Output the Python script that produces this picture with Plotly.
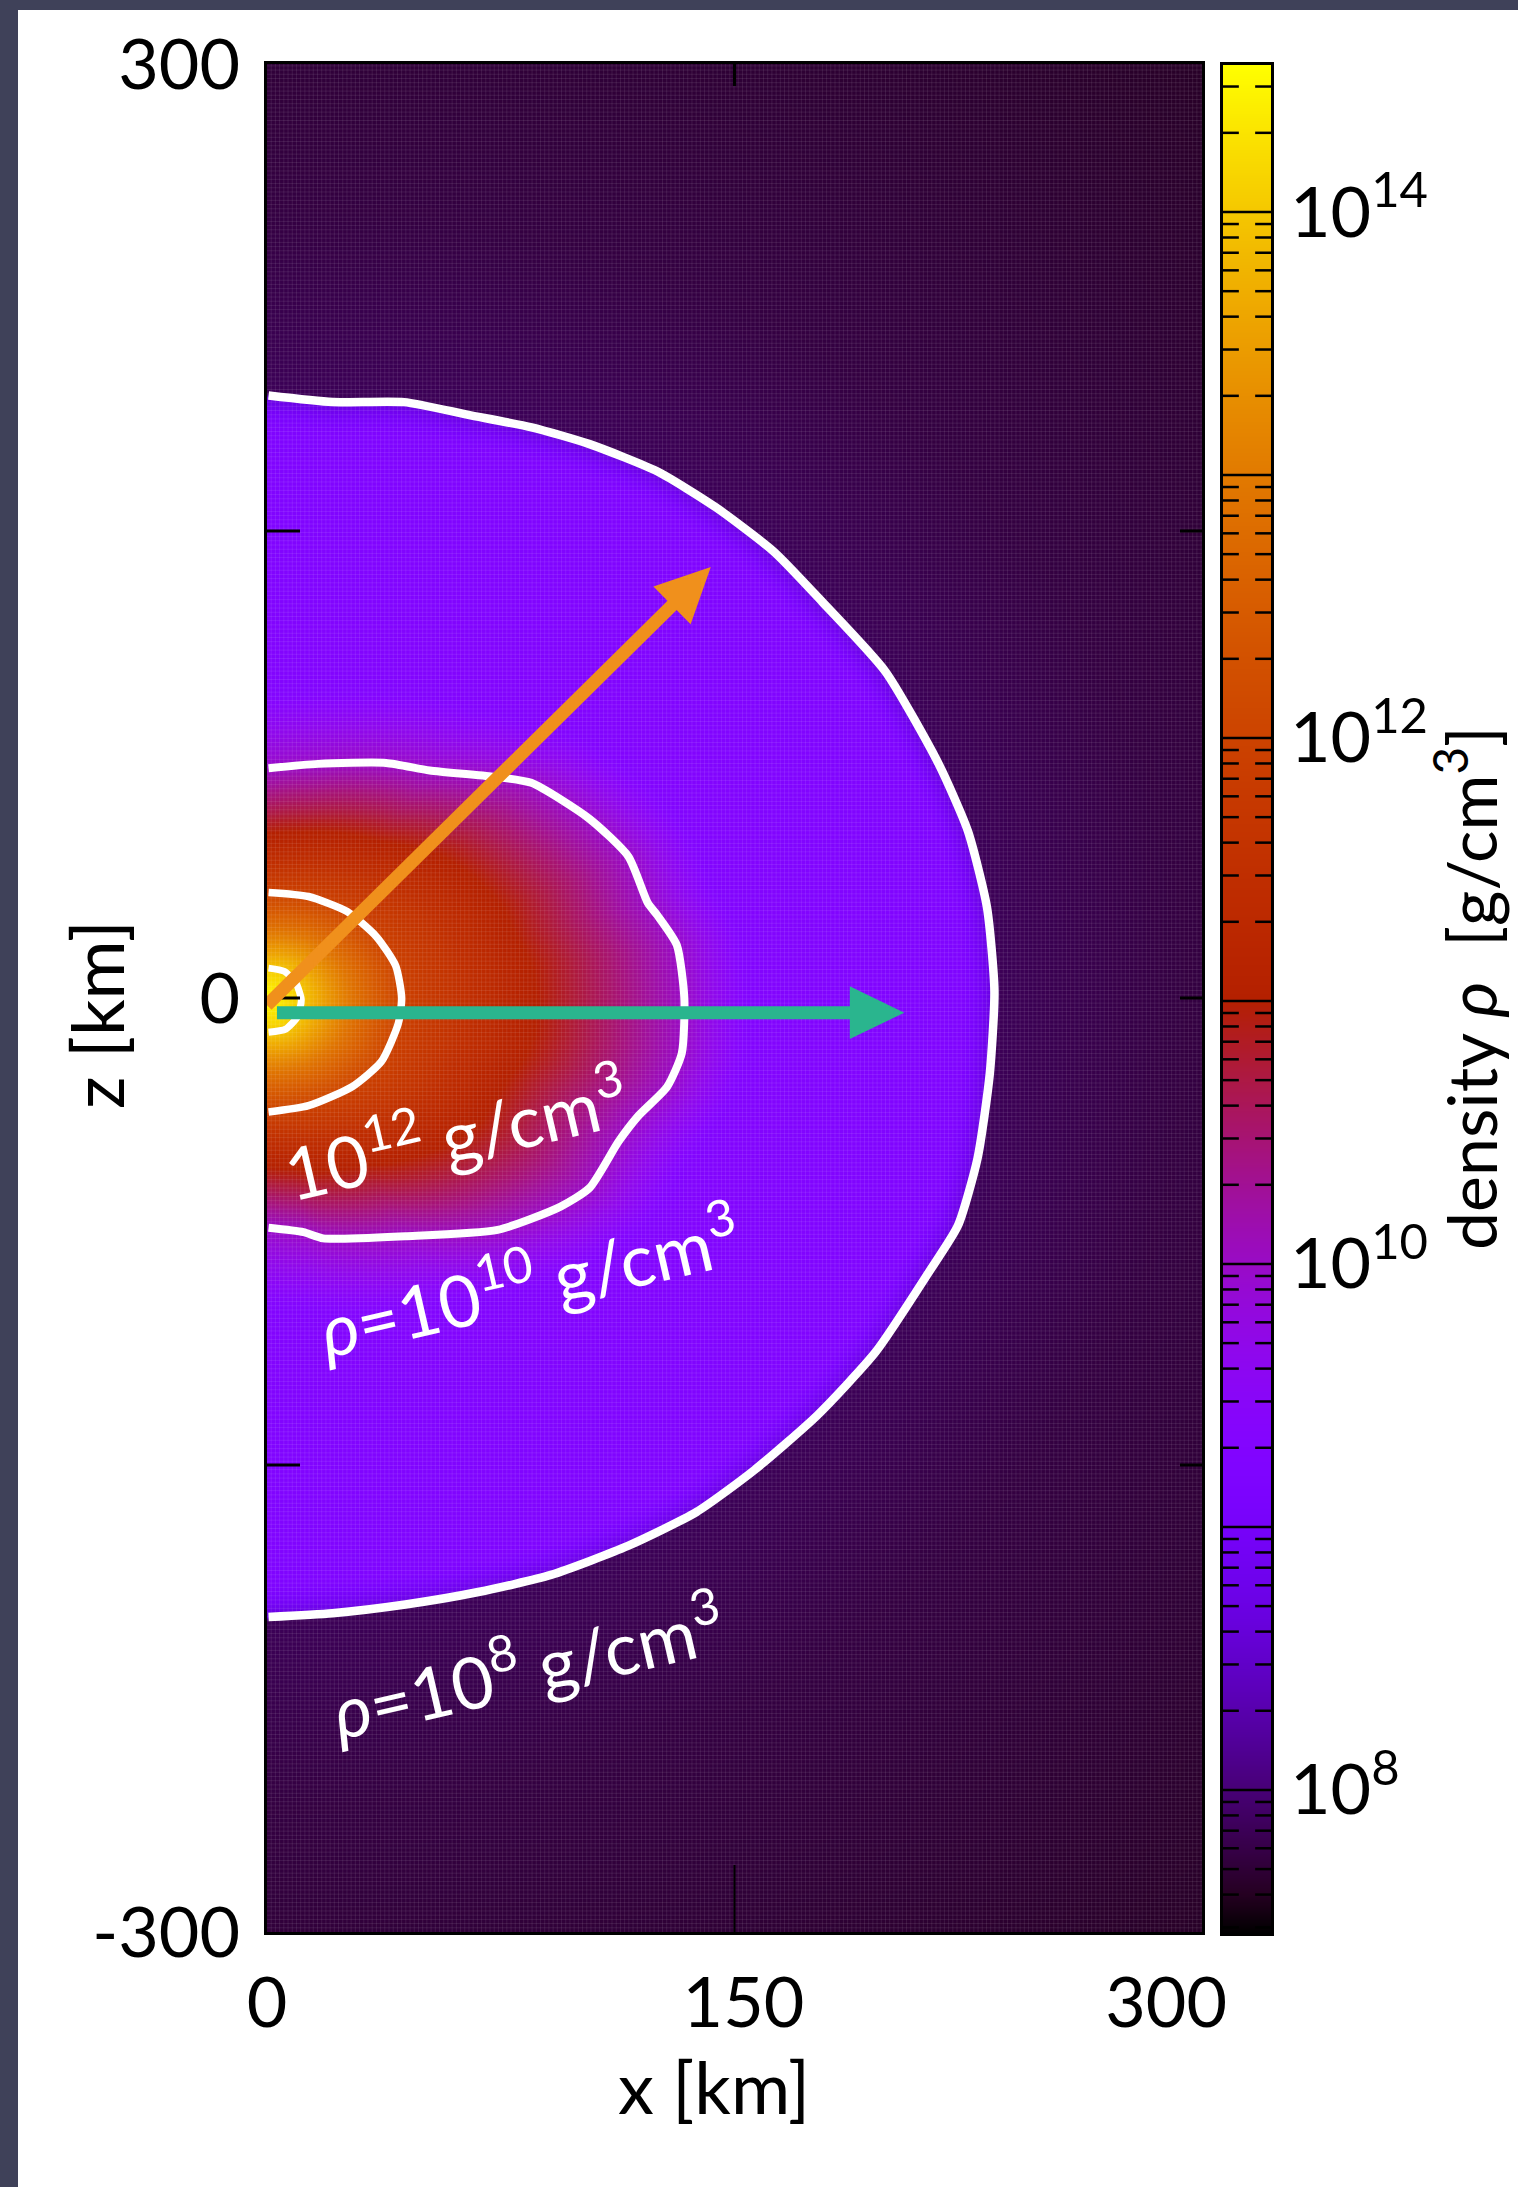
import numpy as np
import plotly.graph_objects as go

# ---------------------------------------------------------------
# Density contours of the remnant (x, z in km), one list per level
# ---------------------------------------------------------------
rho1e14_x = [0.5, 5.5, 9.2, 11.0, 9.8, 6.0, 0.5]
rho1e14_z = [9.6, 8.6, 5.0, -0.5, -6.0, -10.0, -11.0]

rho1e12_x = [0.5, 13.3, 25.7, 35.1, 41.3, 43.2, 42.1, 36.7, 27.3, 13.3, 0.5]
rho1e12_z = [33.9, 32.6, 27.8, 19.7, 10.3, 0.0, -8.3, -20.4, -28.5, -34.6, -36.6]

rho1e10_x = [0.5, 16.4, 38.2, 52.2, 72.4, 84.8, 103.5, 116.0, 122.2, 125.3, 131.5,
             133.9, 133.1, 128.4, 119.1, 112.8, 103.5, 94.2, 74.0, 44.4, 18.0, 11.7, 0.5]
rho1e10_z = [73.8, 75.2, 75.5, 73.1, 71.1, 69.1, 57.5, 45.4, 30.5, 26.5, 17.0,
             0.0, -17.7, -28.5, -37.9, -46.1, -61.0, -67.0, -74.5, -76.5, -77.2, -75.2, -73.8]

rho1e8_x = [0.5, 21.0, 44.0, 64.6, 84.9, 103.5, 125.3, 144.0, 162.6, 178.2, 198.4,
            215.5, 224.9, 231.0, 233.4, 231.9, 228.0, 221.7, 212.4, 195.3, 176.6,
            156.4, 137.8, 116.0, 91.1, 67.8, 44.4, 21.0, 0.5]
rho1e8_z = [193.5, 191.4, 191.4, 187.3, 183.3, 177.9, 169.1, 157.6, 143.4, 127.2, 104.9,
            75.2, 53.6, 29.2, 2.2, -24.4, -51.4, -73.1, -88.0, -113.7, -134.0,
            -151.6, -165.1, -175.9, -185.3, -190.8, -194.8, -197.6, -198.8]

# log10(rho) profile between neighbouring contours (t = fractional radius)
core_logrho = [14.55, 14.0]                       # centre -> 1e14 contour
inner_t, inner_logrho = [0.0, 0.5, 1.0], [14.0, 12.9, 12.0]
mid_t, mid_logrho = [0.0, 0.2, 0.45, 0.75, 1.0], [11.95, 11.55, 11.05, 10.5, 10.0]
outer_t, outer_logrho = [0.0, 0.2, 1.0], [10.0, 9.3, 9.2]
edge_width_km, edge_logrho = 11.0, 8.6             # darker rim inside the 1e8 surface
ambient_km, ambient_logrho = [0.0, 60.0, 250.0], [7.85, 7.75, 7.6]

# axes
NB = "\u00a0"
x_ticks, x_ticklabels = [0, 150, 300], ["0", NB + "150", "300" + NB * 4]
z_ticks, z_ticklabels = [-300, -150, 0, 150, 300], ["-300", " ", "0", " ", "300"]
x_inner_ticks = [150]
z_inner_ticks = [-150, 0, 150]
cbar_range = [7.456, 14.559]
cbar_decades = [8, 9, 10, 11, 12, 13, 14]
cbar_labelled = [8, 10, 12, 14]

# arrows (km)
arrow_orange_start, arrow_orange_tip = (0.0, -2.3), (142.4, 138.4)
arrow_teal_start, arrow_teal_tip = (3.2, -4.7), (204.5, -4.7)

# in-plot labels
label_text = ["10<sup>12</sup> g/cm<sup>3</sup>",
              "<i>ρ</i>=10<sup>10</sup> g/cm<sup>3</sup>",
              "<i>ρ</i>=10<sup>8</sup> g/cm<sup>3</sup>"]
label_x = [60.3, 83.8, 83.4]
label_z = [-42.4, -90.0, -213.6]

FONT = "Lato"
W, H = 1518, 2187
TICK_SIZE, TEXT_SIZE = 70, 72


def gnuplot_scale(n=48):
    out = []
    for i in range(n + 1):
        t = i / n
        r = np.sqrt(t)
        g = t ** 3
        b = np.clip(np.sin(2 * np.pi * t), 0, 1)
        out.append([t, "rgb(%d,%d,%d)" % (round(255 * r), round(255 * g), round(255 * b))])
    return out


CSCALE = gnuplot_scale()

# ---------------------------------------------------------------
# Density field on the meridional grid, built from the contours
# ---------------------------------------------------------------
dx = 1.5
xc = np.arange(dx / 2, 300, dx)
zc = np.arange(-300 + dx / 2, 300, dx)
X, Z = np.meshgrid(xc, zc)
R = np.hypot(X, Z)
TH = np.arctan2(Z, X)


def contour_radius(cx, cz):
    cx, cz = np.asarray(cx, float), np.asarray(cz, float)
    th = np.arctan2(cz, cx)
    r = np.hypot(cx, cz)
    o = np.argsort(th)
    return np.interp(TH, th[o], r[o])


r14 = contour_radius(rho1e14_x, rho1e14_z)
r12 = contour_radius(rho1e12_x, rho1e12_z)
r10 = contour_radius(rho1e10_x, rho1e10_z)
r8 = contour_radius(rho1e8_x, rho1e8_z)

logrho = np.empty_like(R)
m = R < r14
logrho[m] = np.interp(R[m] / r14[m], [0, 1], core_logrho)
m = (R >= r14) & (R < r12)
logrho[m] = np.interp((R[m] - r14[m]) / (r12[m] - r14[m]), inner_t, inner_logrho)
m = (R >= r12) & (R < r10)
logrho[m] = np.interp((R[m] - r12[m]) / (r10[m] - r12[m]), mid_t, mid_logrho)
m = (R >= r10) & (R < r8)
v = np.interp((R[m] - r10[m]) / (r8[m] - r10[m]), outer_t, outer_logrho)
w = np.clip(1 - (r8[m] - R[m]) / edge_width_km, 0, 1) ** 1.5
logrho[m] = v * (1 - w) + edge_logrho * w
m = R >= r8
logrho[m] = np.interp(R[m] - r8[m], ambient_km, ambient_logrho)

fig = go.Figure()

fig.add_trace(go.Heatmap(x=xc, y=zc, z=logrho, colorscale=CSCALE,
                         zmin=cbar_range[0], zmax=cbar_range[1], zsmooth="best",
                         showscale=False, hoverinfo="skip"))

# faint cell mesh of the simulation grid
mesh = 1.35
mx, my = [], []
for xv in np.arange(mesh, 300, mesh):
    mx += [xv, xv, None]
    my += [-300, 300, None]
for zv in np.arange(-300 + mesh, 300, mesh):
    mx += [0, 300, None]
    my += [zv, zv, None]
fig.add_trace(go.Scatter(x=mx, y=my, mode="lines", hoverinfo="skip",
                         line=dict(color="rgba(255,255,255,0.09)", width=1)))

# white density contours
for cx, cz, lw in [(rho1e14_x, rho1e14_z, 7), (rho1e12_x, rho1e12_z, 7.5),
                   (rho1e10_x, rho1e10_z, 8), (rho1e8_x, rho1e8_z, 8.5)]:
    fig.add_trace(go.Scatter(x=cx, y=cz, mode="lines", hoverinfo="skip",
                             line=dict(color="white", width=lw, shape="spline", smoothing=0.6)))

# ---------------------------------------------------------------
# Colour bar drawn as its own small subplot
# ---------------------------------------------------------------
cb_y = np.linspace(cbar_range[0], cbar_range[1], 500)
fig.add_trace(go.Heatmap(x=[0.25, 0.75], y=cb_y, z=np.column_stack([cb_y, cb_y]),
                         colorscale=CSCALE, zmin=cbar_range[0], zmax=cbar_range[1],
                         zsmooth="best", showscale=False, hoverinfo="skip",
                         xaxis="x2", yaxis="y2"))

tx, ty = [], []
for d in cbar_decades:
    tx += [0, 1, None]
    ty += [d, d, None]
for d in range(7, 15):
    for k in range(2, 10):
        yv = d + np.log10(k)
        if cbar_range[0] < yv < cbar_range[1]:
            tx += [0, 0.33, None, 0.67, 1, None]
            ty += [yv, yv, None, yv, yv, None]
fig.add_trace(go.Scatter(x=tx, y=ty, mode="lines", hoverinfo="skip",
                         line=dict(color="black", width=2.5), xaxis="x2", yaxis="y2"))

# ---------------------------------------------------------------
# Tick marks inside the frame (different length on each side)
# ---------------------------------------------------------------
shapes = []
for zv in z_inner_ticks:
    shapes.append(dict(type="line", xref="x", yref="y", xsizemode="pixel", xanchor=0,
                       x0=0, x1=33, y0=zv, y1=zv, line=dict(color="black", width=3),
                       layer="above"))
    shapes.append(dict(type="line", xref="x", yref="y", xsizemode="pixel", xanchor=300,
                       x0=-22, x1=0, y0=zv, y1=zv, line=dict(color="black", width=3),
                       layer="above"))
for xv in x_inner_ticks:
    shapes.append(dict(type="line", xref="x", yref="y", ysizemode="pixel", yanchor=300,
                       y0=0, y1=-22, x0=xv, x1=xv, line=dict(color="black", width=3),
                       layer="above"))
    shapes.append(dict(type="line", xref="x", yref="y", ysizemode="pixel", yanchor=-300,
                       y0=0, y1=67, x0=xv, x1=xv, line=dict(color="black", width=2),
                       layer="above"))


# ---------------------------------------------------------------
# Arrows
# ---------------------------------------------------------------
def arrow(start, tip, color, head_len=17.5, head_half=8.5, shaft=13):
    sx, sz = start
    tx_, tz_ = tip
    ux, uz = tx_ - sx, tz_ - sz
    L = np.hypot(ux, uz)
    ux, uz = ux / L, uz / L
    bx, bz = tx_ - head_len * ux, tz_ - head_len * uz
    px, pz = -uz, ux
    shapes.append(dict(type="line", xref="x", yref="y", x0=sx, y0=sz,
                       x1=bx + 0.5 * ux, y1=bz + 0.5 * uz,
                       line=dict(color=color, width=shaft), layer="above"))
    path = "M %f,%f L %f,%f L %f,%f Z" % (tx_, tz_, bx + head_half * px, bz + head_half * pz,
                                          bx - head_half * px, bz - head_half * pz)
    shapes.append(dict(type="path", xref="x", yref="y", path=path,
                       fillcolor=color, line=dict(width=0), layer="above"))


arrow(arrow_orange_start, arrow_orange_tip, "#f0901c")
arrow(arrow_teal_start, arrow_teal_tip, "#2ab58e")

# frame strips along the page edge
shapes.append(dict(type="rect", xref="paper", yref="paper", x0=0, x1=18 / W, y0=0, y1=1,
                   fillcolor="#3f4159", line=dict(width=0), layer="above"))
shapes.append(dict(type="rect", xref="paper", yref="paper", x0=0, x1=1, y0=1 - 10 / H, y1=1,
                   fillcolor="#3f4159", line=dict(width=0), layer="above"))

annotations = []
for t, xv, zv in zip(label_text, label_x, label_z):
    annotations.append(dict(text=t, x=xv, y=zv, xref="x", yref="y", showarrow=False,
                            xanchor="center", yanchor="middle", textangle=-13,
                            font=dict(family=FONT, size=TEXT_SIZE, color="white")))

annotations.append(dict(text="x [km]", x=714 / W, y=1 - 2086 / H, xref="paper", yref="paper",
                        showarrow=False, xanchor="center", yanchor="middle",
                        font=dict(family=FONT, size=TEXT_SIZE, color="black")))
annotations.append(dict(text="z [km]", x=96 / W, y=1 - 1015 / H, xref="paper", yref="paper",
                        showarrow=False, xanchor="center", yanchor="middle", textangle=-90,
                        font=dict(family=FONT, size=TEXT_SIZE, color="black")))
annotations.append(dict(text="density <i>ρ</i>" + NB + " [g/cm<sup>3</sup>]",
                        x=1466 / W, y=1 - 988 / H,
                        xref="paper", yref="paper", showarrow=False,
                        xanchor="center", yanchor="middle", textangle=-90,
                        font=dict(family=FONT, size=68, color="black")))

axis_common = dict(showgrid=False, zeroline=False, showline=True, linecolor="black",
                   linewidth=3, ticks="", automargin=False, mirror=True,
                   tickfont=dict(family=FONT, size=TICK_SIZE, color="black"))

fig.update_layout(
    template="none",
    width=W, height=H, margin=dict(l=0, r=0, t=0, b=0, pad=0), autosize=False,
    paper_bgcolor="white", plot_bgcolor="white", showlegend=False,
    font=dict(family=FONT, size=TICK_SIZE, color="black"),
    xaxis=dict(domain=[267 / W, 1202 / W], range=[0, 300], tickvals=x_ticks,
               ticktext=x_ticklabels, ticklabelstandoff=8, **axis_common),
    yaxis=dict(domain=[1 - 1932 / H, 1 - 64 / H], range=[-300, 300], tickvals=z_ticks,
               ticktext=z_ticklabels, ticklabelstandoff=10, **axis_common),
    xaxis2=dict(domain=[1223 / W, 1271 / W], range=[0, 1], anchor="y2", showgrid=False,
                zeroline=False, showticklabels=False, ticks="", showline=True,
                linecolor="black", linewidth=3, mirror=True, automargin=False),
    yaxis2=dict(domain=[1 - 1933 / H, 1 - 65 / H], range=cbar_range, anchor="x2", side="right",
                tickvals=cbar_labelled, ticktext=["10<sup>%d</sup>" % d for d in cbar_labelled],
                ticks="", showgrid=False, zeroline=False, showline=True, linecolor="black",
                linewidth=3, mirror=True, ticklabelstandoff=2, automargin=False,
                tickfont=dict(family=FONT, size=TICK_SIZE, color="black")),
    shapes=shapes, annotations=annotations,
)

fig.write_html("out.html")
